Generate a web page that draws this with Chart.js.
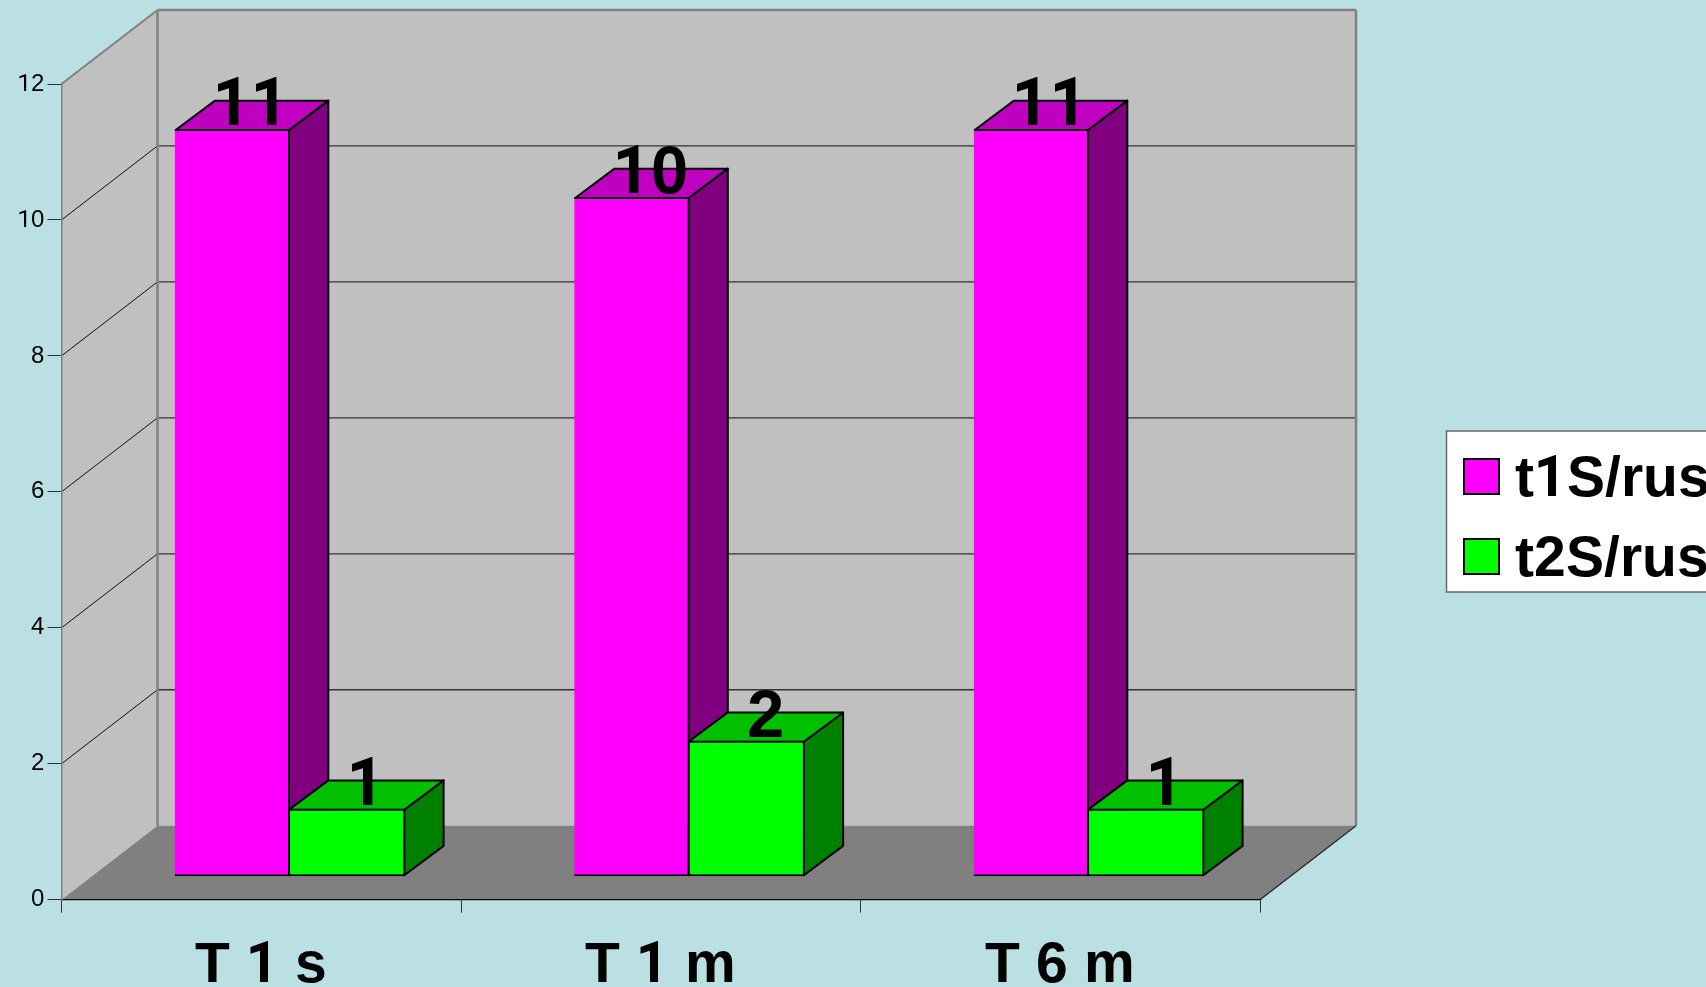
<!DOCTYPE html>
<html>
<head>
<meta charset="utf-8">
<title>T 1 s / T 1 m / T 6 m</title>
<script src="https://cdn.jsdelivr.net/npm/chart.js@4"></script>
<style>
    /* Liberation Sans everywhere, except a plain footless "1" */
    @font-face { font-family: "ChartSans"; font-weight: 400; src: local("Liberation Sans"); }
    @font-face { font-family: "ChartSans"; font-weight: 700; src: local("Liberation Sans Bold"); }
    @font-face { font-family: "ChartSans"; font-weight: 400; src: local("Roboto"), local("Roboto Regular"); unicode-range: U+31; }
    @font-face { font-family: "ChartSans"; font-weight: 700; src: local("Roboto Bold"), local("Roboto-Bold"); unicode-range: U+31; }
    html, body { margin: 0; padding: 0; background: #BAE0E3; overflow: hidden; }
    canvas { display: block; }
</style>
</head>
<body>
<canvas id="barChart" width="1706" height="987"></canvas>
<script>
const categories = ["T 1 s", "T 1 m", "T 6 m"];
const t1S = [11, 10, 11];
const t2S = [1, 2, 1];
const seriesNames = ["t1S/rus", "t2S/rus"];
const yMax = 12;
const yStep = 2;

const fontName = '"ChartSans", "Liberation Sans", Arial, sans-serif';

// depth of the whole box and where the bars sit inside it
const wallX = 96, wallY = 74;
const barShiftX = 28.75, barShiftY = 23;
const barDepthX = 39.3, barDepthY = 29.3;

const barColors = [
    { front: "#FF00FF", top: "#C000C0", side: "#800080" },
    { front: "#00FF00", top: "#00C000", side: "#008000" }
];

function poly(ctx, points, fill, stroke, lineWidth) {
    ctx.beginPath();
    points.forEach((p, i) => i ? ctx.lineTo(p[0], p[1]) : ctx.moveTo(p[0], p[1]));
    ctx.closePath();
    if (fill) {
        ctx.fillStyle = fill;
        ctx.fill();
    }
    if (stroke) {
        ctx.strokeStyle = stroke;
        ctx.lineWidth = lineWidth;
        ctx.stroke();
    }
}

function line(ctx, x1, y1, x2, y2, color, lineWidth) {
    ctx.beginPath();
    ctx.moveTo(x1, y1);
    ctx.lineTo(x2, y2);
    ctx.strokeStyle = color;
    ctx.lineWidth = lineWidth;
    ctx.stroke();
}

// back wall, side wall, floor and gridlines
const boxPlugin = {
    id: "box",
    beforeDraw(chart) {
        const ctx = chart.ctx;
        const { left, right, top, bottom } = chart.chartArea;
        const y = chart.scales.y;

        ctx.save();
        poly(ctx, [[left + wallX, top - wallY], [right + wallX, top - wallY], [right + wallX, bottom - wallY], [left + wallX, bottom - wallY]], "#C0C0C0");
        poly(ctx, [[left, top], [left + wallX, top - wallY], [left + wallX, bottom - wallY], [left, bottom]], "#C0C0C0");
        poly(ctx, [[left, bottom], [right, bottom], [right + wallX, bottom - wallY], [left + wallX, bottom - wallY]], "#808080");

        y.ticks.forEach(t => {
            if (t.value === 0 || t.value === yMax) return;
            const py = y.getPixelForValue(t.value);
            line(ctx, left, py, left + wallX, py - wallY, "#111", 1);
            line(ctx, left + wallX, py - wallY, right + wallX, py - wallY, "#333", 1.3);
        });

        // wall outlines
        line(ctx, left, top, left + wallX, top - wallY, "#808080", 2);
        line(ctx, left + wallX, top - wallY, right + wallX, top - wallY, "#808080", 2.5);
        line(ctx, left + wallX, top - wallY, left + wallX, bottom - wallY, "#808080", 2.5);
        line(ctx, right + wallX, top - wallY, right + wallX, bottom - wallY, "#808080", 2.5);
        line(ctx, right, bottom, right + wallX, bottom - wallY, "#222", 1.2);
        ctx.restore();
    },
    beforeDatasetsDraw(chart) {
        const ctx = chart.ctx;
        ctx.save();
        ctx.lineJoin = "round";
        categories.forEach((c, j) => {
            [0, 1].forEach(i => {
                const bar = chart.getDatasetMeta(i).data[j];
                const { x, y, base, width } = bar.getProps(["x", "y", "base", "width"], true);
                // the pair of bars shares one dividing line
                const l = x - width / 2 + barShiftX + (i ? -1 : 1);
                const r = x + width / 2 + barShiftX - 1;
                const t = y - barShiftY + 1;
                const b = base - barShiftY - 1;
                poly(ctx, [[r, t], [r + barDepthX, t - barDepthY], [r + barDepthX, b - barDepthY], [r, b]], barColors[i].side, "#000", 2);
                poly(ctx, [[l, t], [l + barDepthX, t - barDepthY], [r + barDepthX, t - barDepthY], [r, t]], barColors[i].top, "#000", 2);
            });
        });
        ctx.restore();
        // the front faces are the library's own bars, moved into the box
        ctx.save();
        ctx.translate(barShiftX, -barShiftY);
    },
    afterDatasetsDraw(chart) {
        const ctx = chart.ctx;
        ctx.restore();

        // value labels
        ctx.save();
        ctx.font = "bold 67px " + fontName;
        ctx.fillStyle = "#000";
        ctx.textAlign = "center";
        ctx.textBaseline = "alphabetic";
        chart.data.datasets.forEach((ds, i) => {
            chart.getDatasetMeta(i).data.forEach((bar, j) => {
                const { x, y } = bar.getProps(["x", "y"], true);
                ctx.fillText(ds.data[j], x + barShiftX + barDepthX / 2 - 1, y - barShiftY - 4);
            });
        });
        ctx.restore();

        // legend box, runs off the right edge
        ctx.save();
        ctx.fillStyle = "#FFF";
        ctx.fillRect(1446.5, 431, 280, 161);
        ctx.strokeStyle = "#666";
        ctx.lineWidth = 1.5;
        ctx.strokeRect(1446.5, 431, 280, 161);
        ctx.font = "bold 57px " + fontName;
        ctx.textAlign = "left";
        ctx.textBaseline = "alphabetic";
        chart.data.datasets.forEach((ds, i) => {
            const top = 459 + i * 80;
            ctx.fillStyle = barColors[i].front;
            ctx.fillRect(1464, top, 35, 35);
            ctx.strokeStyle = "#000";
            ctx.lineWidth = 2;
            ctx.strokeRect(1464, top, 35, 35);
            ctx.fillStyle = "#000";
            ctx.fillText(ds.label, 1515, 495.5 + i * 80);
        });
        ctx.restore();
    }
};

function drawChart() {
    new Chart(document.getElementById("barChart"), {
        type: "bar",
        data: {
            labels: categories,
            datasets: [
                { label: seriesNames[0], data: t1S, backgroundColor: barColors[0].front, borderSkipped: "left" },
                { label: seriesNames[1], data: t2S, backgroundColor: barColors[1].front, borderSkipped: "left" }
            ]
        },
        options: {
            responsive: false,
            animation: false,
            clip: false,
            categoryPercentage: 0.5772,
            barPercentage: 1,
            layout: { padding: { top: 84, right: 446, left: 0, bottom: 0 } },
            datasets: {
                bar: { borderColor: "#000", borderWidth: 2 }
            },
            plugins: {
                legend: { display: false },
                tooltip: { enabled: false }
            },
            scales: {
                x: {
                    afterFit(scale) { scale.height = 87.3; },
                    border: { color: "#000", width: 1.2 },
                    grid: { drawOnChartArea: false, tickLength: 13, color: "#333", offset: true },
                    ticks: {
                        color: "#000",
                        padding: 19,
                        maxRotation: 0,
                        autoSkip: false,
                        font: { family: fontName, size: 57, weight: "bold" }
                    }
                },
                y: {
                    min: 0,
                    max: yMax,
                    afterFit(scale) { scale.width = 61.5; },
                    border: { color: "#808080", width: 1.5 },
                    grid: { drawOnChartArea: false, tickLength: 14, color: "#333" },
                    ticks: {
                        stepSize: yStep,
                        color: "#000",
                        padding: 4,
                        font: { family: fontName, size: 24 }
                    }
                }
            }
        },
        plugins: [boxPlugin]
    });
}

// faces have to be ready before the canvas text is drawn
Promise.all([
    document.fonts.load('400 24px "ChartSans"', "0123"),
    document.fonts.load('700 57px "ChartSans"', "T1sm")
]).then(drawChart, drawChart);
</script>
</body>
</html>
